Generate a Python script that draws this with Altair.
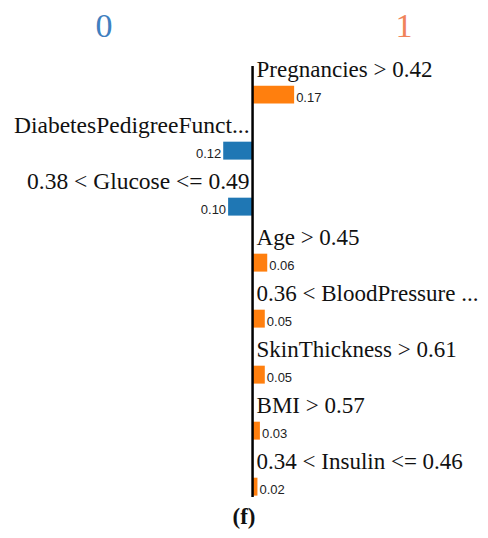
import altair as alt
import pandas as pd

features = [
    "Pregnancies > 0.42",
    "DiabetesPedigreeFunct...",
    "0.38 < Glucose <= 0.49",
    "Age > 0.45",
    "0.36 < BloodPressure ...",
    "SkinThickness > 0.61",
    "BMI > 0.57",
    "0.34 < Insulin <= 0.46",
]
weights = [0.17, -0.12, -0.10, 0.06, 0.05, 0.05, 0.03, 0.02]
class_names = ["0", "1"]
class_colors = ["#3f80c0", "#f0845a"]
bar_colors = ["#1f77b4", "#ff7f0e"]
caption = "(f)"

SERIF = "Times New Roman, Liberation Serif, DejaVu Serif, serif"
SANS = "Arial, Liberation Sans, sans-serif"

rows = []
for i, (f, w) in enumerate(zip(features, weights)):
    pos = w > 0
    rows.append({
        "feature": f,
        "w": w,
        "vlabel": f"{abs(w):.2f}",
        "row": i,
        "bar_top": i + 0.28,
        "bar_bot": i + 0.60,
        "val_y": i + 0.50,
        "cls": "1" if pos else "0",
    })
df = pd.DataFrame(rows)
pos_df = df[df.w > 0]
neg_df = df[df.w < 0]

xs = alt.Scale(domain=[-1.0, 0.93], nice=False, zero=False)
ys = alt.Scale(domain=[-1.107, 8.214], nice=False, zero=False, reverse=True)
X = lambda f: alt.X(f, type="quantitative", scale=xs, axis=None)
Y = lambda f: alt.Y(f, type="quantitative", scale=ys, axis=None)

bars = alt.Chart(df).mark_rect().encode(
    x=X("w"), x2=alt.X2(datum=0),
    y=Y("bar_top"), y2="bar_bot",
    color=alt.Color("cls:N", scale=alt.Scale(domain=class_names, range=bar_colors), legend=None),
)

pos_labels = alt.Chart(pos_df).mark_text(
    align="left", baseline="middle", font=SERIF, fontSize=23, dx=4, color="#111"
).encode(x=alt.X(datum=0, scale=xs, axis=None), y=Y("row"), text="feature:N")

neg_labels = alt.Chart(neg_df).mark_text(
    align="right", baseline="middle", font=SERIF, fontSize=23.5, dx=-3, color="#111"
).encode(x=alt.X(datum=0, scale=xs, axis=None), y=Y("row"), text="feature:N")

pos_vals = alt.Chart(pos_df).mark_text(
    align="left", baseline="middle", font=SANS, fontSize=13, dx=2, color="#222"
).encode(x=X("w"), y=Y("val_y"), text="vlabel:N")

neg_vals = alt.Chart(neg_df).mark_text(
    align="right", baseline="middle", font=SANS, fontSize=13, dx=-2, color="#222"
).encode(x=X("w"), y=Y("val_y"), text="vlabel:N")

axis_df = pd.DataFrame({"x": [0], "y1": [-0.07], "y2": [len(features) - 0.375]})
axis_line = alt.Chart(axis_df).mark_rule(color="black", strokeWidth=2.5).encode(
    x=X("x"), y=Y("y1"), y2="y2"
)

head_df = pd.DataFrame({"name": class_names, "x": [-0.607, 0.619], "y": [-0.77, -0.77]})
heads = alt.Chart(head_df).mark_text(
    font=SERIF, fontSize=34, baseline="middle", align="center"
).encode(
    x=X("x"), y=Y("y"), text="name:N",
    color=alt.Color("name:N", scale=alt.Scale(domain=class_names, range=class_colors), legend=None),
)

cap_df = pd.DataFrame({"t": [caption], "x": [-0.035], "y": [7.98]})
cap = alt.Chart(cap_df).mark_text(
    font=SERIF, fontSize=23, fontWeight="bold", baseline="middle", align="center", color="#111"
).encode(x=X("x"), y=Y("y"), text="t:N")

chart = alt.layer(bars, axis_line, pos_labels, neg_labels, pos_vals, neg_vals, heads, cap).properties(
    width=472, height=522, padding=0, autosize=alt.AutoSizeParams(type="none")
).resolve_scale(color="independent").configure_view(stroke=None)

chart.save("out.html", embed_options={"renderer": "svg", "actions": False})
